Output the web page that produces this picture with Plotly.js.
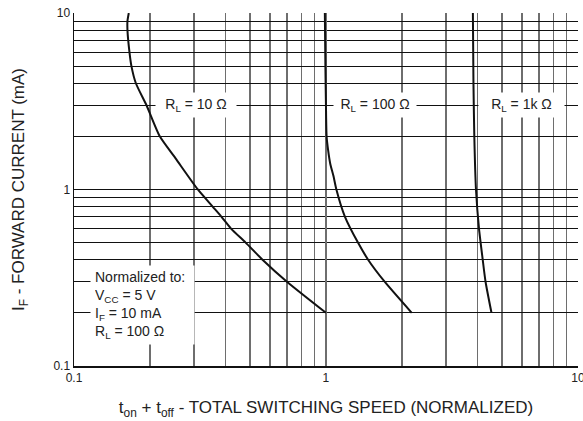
<!DOCTYPE html>
<html>
<head>
<meta charset="utf-8">
<script src="https://cdn.plot.ly/plotly-3.0.1.min.js"></script>
<style>html,body{margin:0;padding:0;background:#fff;}#chart{width:583px;height:421px;}</style>
</head>
<body>
<div id="chart"></div>
<script>
// Data
const rl10_x = [0.165, 0.163, 0.163, 0.166, 0.169, 0.176, 0.194, 0.219, 0.253, 0.31, 0.355, 0.385, 0.42, 0.48, 0.56, 0.70, 1.0];
const rl10_y = [10, 9, 8, 6, 5, 4, 3, 2, 1.5, 1, 0.8, 0.7, 0.6, 0.5, 0.4, 0.3, 0.2];
const rl100_x = [0.99, 0.995, 1.0, 1.006, 1.02, 1.04, 1.07, 1.10, 1.19, 1.34, 1.47, 1.71, 2.19];
const rl100_y = [10, 5, 3, 2, 1.67, 1.4, 1.2, 1, 0.7, 0.5, 0.4, 0.3, 0.2];
const rl1k_x = [3.83, 3.85, 3.88, 3.94, 4.05, 4.19, 4.30, 4.54];
const rl1k_y = [10, 4, 2, 1, 0.6, 0.4, 0.3, 0.2];

const majorVals = [0.1, 1, 10];
const majorText = ['0.1', '1', '10'];
const minorVals = [0.2,0.3,0.4,0.5,0.6,0.7,0.8,0.9,2,3,4,5,6,7,8,9];

const lineStyle = {color: '#111', width: 2, shape: 'spline', smoothing: 0.6};
const traces = [
  {x: rl10_x, y: rl10_y, mode: 'lines', line: lineStyle, hoverinfo: 'skip'},
  {x: rl100_x, y: rl100_y, mode: 'lines', line: lineStyle, hoverinfo: 'skip'},
  {x: rl1k_x, y: rl1k_y, mode: 'lines', line: lineStyle, hoverinfo: 'skip'}
];

const fontFam = 'Liberation Sans, Arial, sans-serif';
const ann = (text, x, y, w, h, align, pad) => ({
  text: text, x: Math.log10(x), y: Math.log10(y), xref: 'x', yref: 'y',
  showarrow: false, bgcolor: '#fff', width: w, height: h, align: align || 'center',
  borderpad: pad || 1,
  font: {family: fontFam, size: 14, color: '#222'}
});

const xGrid = '#6e6e6e';
const yGrid = '#111';
const layout = {
  width: 583, height: 421,
  margin: {l: 74, r: 5, t: 13, b: 55},
  paper_bgcolor: '#fff', plot_bgcolor: '#fff',
  showlegend: false,
  font: {family: fontFam, size: 12, color: '#222'},
  xaxis: {
    type: 'log', range: [-1, 1.0004], tickmode: 'array', tickvals: majorVals, ticktext: majorText,
    showgrid: true, gridcolor: xGrid, gridwidth: 1.5,
    minor: {tickmode: 'array', tickvals: minorVals, showgrid: true, gridcolor: xGrid, gridwidth: 1.5, ticks: ''},
    showline: true, linecolor: '#111', linewidth: 1.5, ticklabeloverflow: 'allow',
    ticks: '', zeroline: false, tickfont: {size: 12, color: '#222'},
    title: {text: 't<sub>on</sub> + t<sub>off</sub> - TOTAL SWITCHING SPEED (NORMALIZED)', font: {size: 17, color: '#222'}, standoff: 17}
  },
  yaxis: {
    type: 'log', range: [-1.0004, 1], tickmode: 'array', tickvals: majorVals, ticktext: majorText,
    showgrid: true, gridcolor: yGrid, gridwidth: 1,
    minor: {tickmode: 'array', tickvals: minorVals, showgrid: true, gridcolor: yGrid, gridwidth: 1, ticks: ''},
    showline: true, linecolor: '#111', linewidth: 1.5,
    ticks: '', zeroline: false, tickfont: {size: 12, color: '#222'},
    title: {text: 'I<sub>F</sub> - FORWARD CURRENT (mA)', font: {size: 17, color: '#222'}, standoff: 24}
  },
  annotations: [
    ann('R<sub>L</sub> = 10 Ω', 0.305, 3, 78, 22),
    ann('R<sub>L</sub> = 100 Ω', 1.56, 3, 80, 22),
    ann('R<sub>L</sub> = 1k Ω', 5.97, 3, 83, 22),
    ann('Normalized to:<br>V<sub>CC</sub> = 5 V<br>I<sub>F</sub> = 10 mA<br>R<sub>L</sub> = 100 Ω', 0.187, 0.222, 95, 70, 'left', 4)
  ]
};

Plotly.newPlot('chart', traces, layout, {staticPlot: true, displayModeBar: false});
</script>
</body>
</html>
